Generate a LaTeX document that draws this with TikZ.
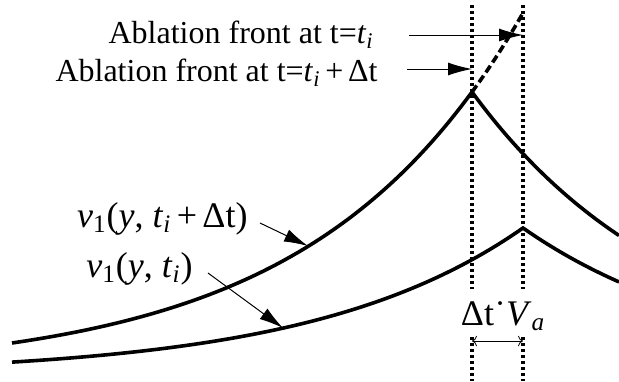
\documentclass[tikz,border=0pt]{standalone}
\usepackage{fontspec}
\setmainfont{Liberation Serif}
\usetikzlibrary{arrows.meta}
\tikzset{curve/.style={line width=1.8pt},
  front/.style={line width=1.6pt,dash pattern=on 1.7pt off 1.3pt},
  ptr/.style={line width=0.5pt,-{Latex[length=12pt,width=6.5pt]}},
  lbl/.style={inner sep=0pt,font=\fontsize{16}{19}\selectfont},
  vlbl/.style={inner sep=0pt,font=\fontsize{18}{22}\selectfont}}

\begin{document}
\begin{tikzpicture}[x=0.5pt,y=-0.5pt]
  \useasboundingbox (0,0) rectangle (619,381);
  % ablation fronts
  \draw[front] (472,5) -- (472,289);
  \draw[front] (523,5) -- (523,289);
  \draw[front] (472,337) -- (472,381);
  \draw[front] (523,337) -- (523,381);
  % profiles
  \draw[curve] plot[domain=12:472,samples=80] (\x,{373-281*exp((\x-472)/205.7)})
    -- plot[domain=472:619,samples=40] (\x,{373-281*exp(-(\x-472)/205.7)});
  \draw[curve,dash pattern=on 4pt off 2pt] plot[domain=472:523,samples=20] (\x,{373-281*exp((\x-472)/205.7)});
  \draw[curve] plot[domain=12:523,samples=80] (\x,{375-147*exp((\x-523)/210)})
    -- plot[domain=523:619,samples=30] (\x,{375-147*exp(-(\x-523)/210)});
  % labels
  \node[lbl,anchor=base east] (fi) at (374,43) {Ablation front at t=\textit{t}\textsubscript{\textit{i}}};
  \node[lbl,anchor=base east] (fd) at (378,81) {Ablation front at t=\textit{t}\textsubscript{\textit{i}}\hspace{0.15em}+\hspace{0.15em}Δt};
  \coordinate (fis) at (409,35);
  \coordinate (fie) at (523,35);
  \coordinate (fds) at (407,69);
  \coordinate (fde) at (472,69);
  \draw[ptr] (fis) -- (fie);
  \draw[ptr] (fds) -- (fde);
  \node[vlbl,anchor=base east] (vd) at (248,227) {\textit{v}\textsubscript{1}(\textit{y}, \textit{t}\textsubscript{\textit{i}}\hspace{0.15em}+\hspace{0.15em}Δt)};
  \node[vlbl,anchor=base east] (vi) at (193,277) {\textit{v}\textsubscript{1}(\textit{y}, \textit{t}\textsubscript{\textit{i}})};
  \coordinate (vds) at (260,223);
  \coordinate (vde) at (308,246);
  \coordinate (vis) at (208,273);
  \coordinate (vie) at (283,328);
  \draw[ptr] (vds) -- (vde);
  \draw[ptr] (vis) -- (vie);
  \node[vlbl,anchor=base] (dv) at (503,325) {Δt˙\textit{V}\textsubscript{\textit{a}}};
  \coordinate (dl) at (472,341);
  \coordinate (dr) at (523,341);
  \draw[{To}-{To},line width=0.4pt] (dl) -- (dr);
\end{tikzpicture}
\end{document}
